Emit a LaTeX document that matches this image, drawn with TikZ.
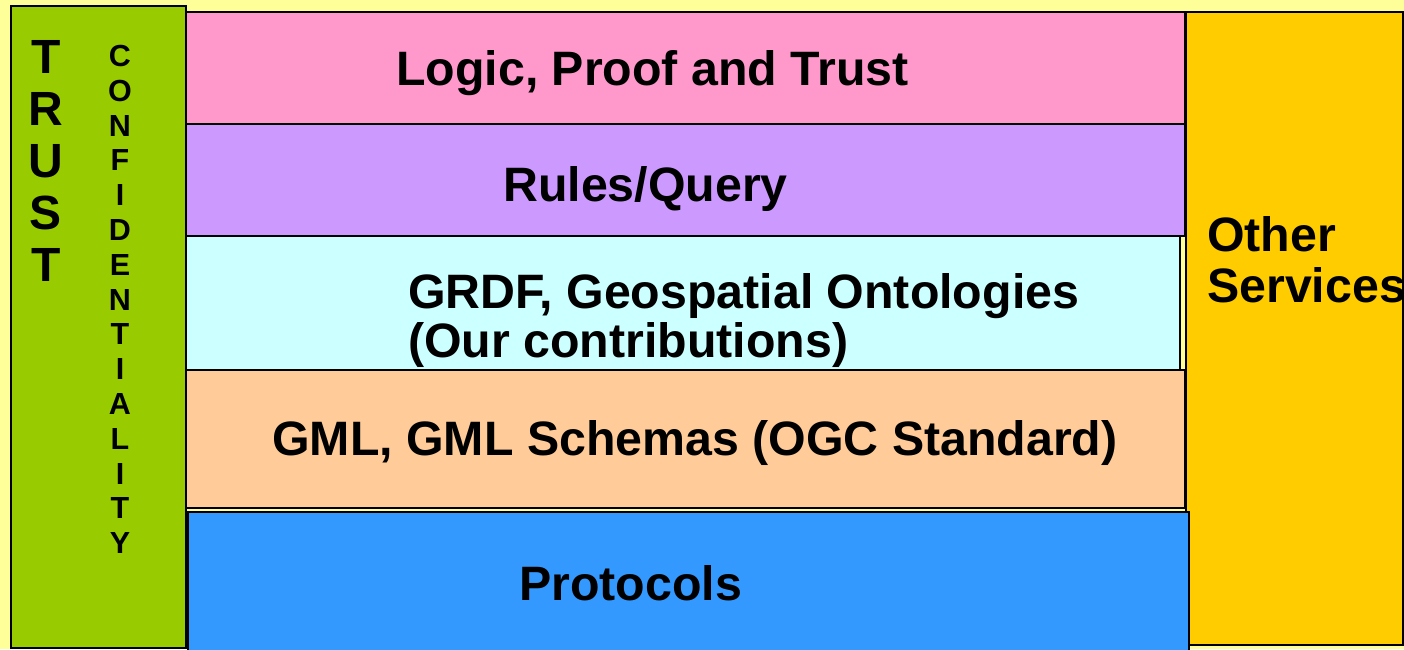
\documentclass[tikz,border=0pt]{standalone}
\usepackage{fontspec}
\setmainfont{Liberation Sans}
\definecolor{bgyellow}{HTML}{FFFF99}
\definecolor{trustgreen}{HTML}{99CC00}
\definecolor{logicpink}{HTML}{FF99CC}
\definecolor{rulespurple}{HTML}{CC99FF}
\definecolor{grdfcyan}{HTML}{CCFFFF}
\definecolor{gmlpeach}{HTML}{FFCC99}
\definecolor{protoblue}{HTML}{3399FF}
\definecolor{othergold}{HTML}{FFCC00}
\begin{document}
\begin{tikzpicture}[x=1pt,y=-1pt,
  box/.style={draw=black,line width=2.5pt,anchor=north west,inner sep=0pt,outer sep=0pt},
  lbl/.style={font=\bfseries\fontsize{48.3}{49}\selectfont,inner sep=0pt,text=black},
  vlbl/.style={font=\bfseries\fontsize{48}{52}\selectfont,inner sep=0pt,text=black,align=center,anchor=north},
  slbl/.style={font=\bfseries\fontsize{30.5}{34.8}\selectfont,inner sep=0pt,text=black,align=center,anchor=north}]
\fill[bgyellow] (0,0) rectangle (1404,649);
\useasboundingbox (0,0) rectangle (1404,649);
% boxes
\node[box,fill=trustgreen,minimum width=175pt,minimum height=642pt] (trust) at (11,6) {};
\node[box,fill=othergold,minimum width=217pt,minimum height=633pt] (other) at (1186,12) {};
\node[box,fill=logicpink,minimum width=999pt,minimum height=112pt] (logic) at (186,12) {};
\node[box,fill=rulespurple,minimum width=999pt,minimum height=112pt] (rules) at (186,124) {};
\node[box,fill=grdfcyan,minimum width=994pt,minimum height=134pt] (grdf) at (186,236) {};
\node[box,fill=gmlpeach,minimum width=999pt,minimum height=138pt] (gml) at (186,370) {};
\node[box,fill=protoblue,minimum width=1001pt,minimum height=142pt] (proto) at (188,512) {};
% labels
\node[lbl,anchor=base west] (tlogic) at (396,85) {Logic, Proof and Trust};
\node[lbl,anchor=base west] (trules) at (503,201) {Rules/Query};
\node[lbl,anchor=north west,align=left] (tgrdf) at (408,273) {GRDF, Geospatial Ontologies\\(Our contributions)};
\node[lbl,anchor=base west] (tgml) at (272,455) {GML, GML Schemas (OGC Standard)};
\node[lbl,anchor=base west] (tproto) at (519,600) {Protocols};
\node[lbl,anchor=north west,align=left,font=\bfseries\fontsize{48.3}{51}\selectfont] (tother) at (1207,216) {Other\\Services};
\node[vlbl] (ttrust) at (46,40) {T\\R\\U\\S\\T};
\node[slbl] (tconf) at (120,45) {C\\O\\N\\F\\I\\D\\E\\N\\T\\I\\A\\L\\I\\T\\Y};
\end{tikzpicture}
\end{document}
